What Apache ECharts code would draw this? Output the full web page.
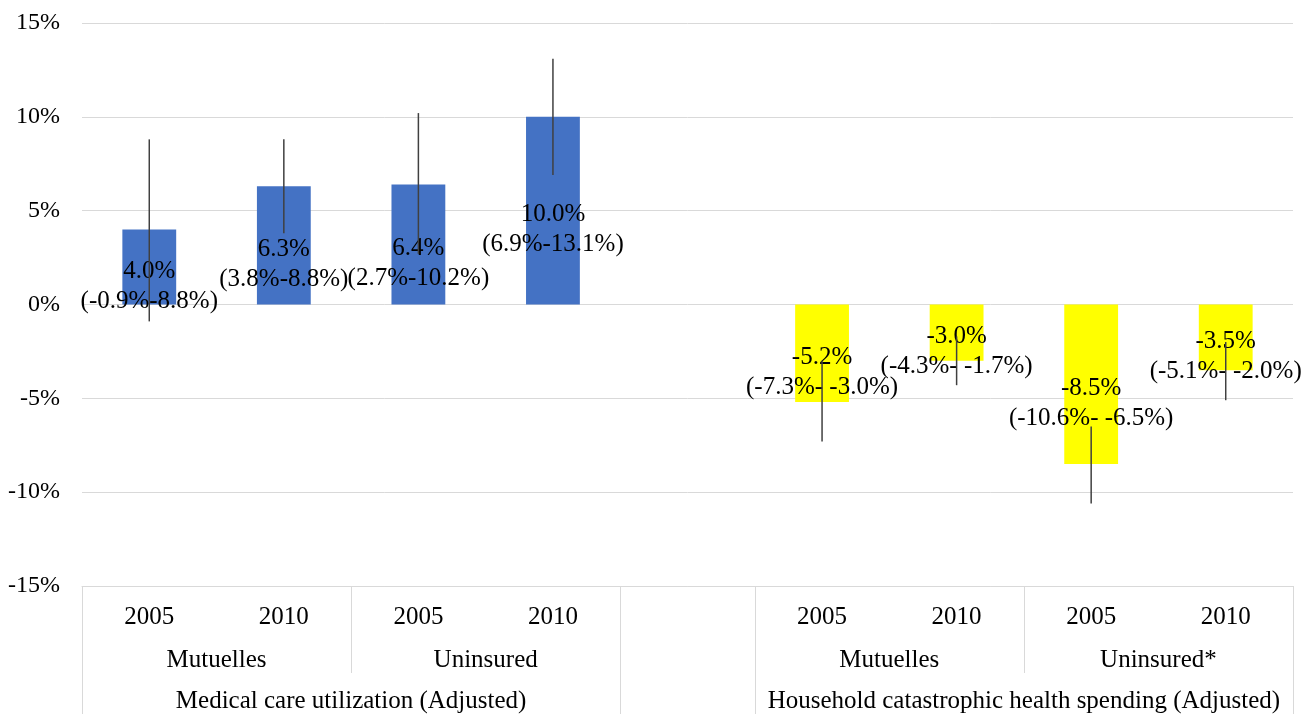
<!DOCTYPE html>
<html>
<head>
<meta charset="utf-8">
<script src="https://cdn.jsdelivr.net/npm/echarts@6/dist/echarts.min.js"></script>
<style>
  html, body { margin: 0; padding: 0; background: #ffffff; }
  #chart { width: 1302px; height: 714px; }
</style>
</head>
<body>
<div id="chart"></div>
<script>
// ---- Data ----
const yearLabels = ['2005', '2010', '2005', '2010', '', '2005', '2010', '2005', '2010'];
const groupLabels = ['', 'Mutuelles', '', 'Uninsured', '', '', 'Mutuelles', '', 'Uninsured*', ''];
const outcomeLabels = ['', '', 'Medical care utilization (Adjusted)', '', '', '', '', 'Household catastrophic health spending (Adjusted)', '', ''];

const utilizationValues = [4.0, 6.3, 6.4, 10.0];
const utilizationLow = [-0.9, 3.8, 2.7, 6.9];
const utilizationHigh = [8.8, 8.8, 10.2, 13.1];

const spendingValues = [-5.2, -3.0, -8.5, -3.5];
const spendingLow = [-7.3, -4.3, -10.6, -5.1];
const spendingHigh = [-3.0, -1.7, -6.5, -2.0];

const yTicks = { min: -15, max: 15, interval: 5 };

// ---- Build combined arrays (slot 5 is the blank separator) ----
const values = [...utilizationValues, null, ...spendingValues];
const lows = [...utilizationLow, null, ...spendingLow];
const highs = [...utilizationHigh, null, ...spendingHigh];
const colors = [...utilizationValues.map(() => '#4472C4'), null, ...spendingValues.map(() => '#FFFF00')];

const barData = values.map((v, i) => v === null ? null : { value: v, itemStyle: { color: colors[i] } });
const errData = values.map((v, i) => v === null ? null : [i, lows[i], highs[i]]).filter(d => d);

const fmt = n => n.toFixed(1) + '%';
function labelText(i) {
  const lo = lows[i], hi = highs[i];
  return fmt(values[i]) + '\n(' + fmt(lo) + '-' + (hi < 0 ? ' ' : '') + fmt(hi) + ')';
}

const FONT = '"Liberation Serif", "Times New Roman", serif';
const gridBox = { left: 82, right: 9, top: 23, bottom: 128 };

const chart = echarts.init(document.getElementById('chart'), null, { renderer: 'canvas' });
chart.setOption({
  animation: false,
  backgroundColor: '#ffffff',
  grid: [
    Object.assign({}, gridBox),
    Object.assign({}, gridBox),
    Object.assign({}, gridBox)
  ],
  xAxis: [
    {
      gridIndex: 0,
      type: 'category',
      data: yearLabels,
      boundaryGap: true,
      axisLine: { show: true, onZero: false, lineStyle: { color: '#d9d9d9', width: 1 } },
      axisTick: { show: false },
      axisLabel: { interval: 0, margin: 19, color: '#000', fontSize: 25, fontFamily: FONT }
    },
    {
      gridIndex: 1,
      type: 'category',
      data: groupLabels,
      boundaryGap: false,
      axisLine: { show: false, onZero: false },
      axisTick: {
        show: true, length: 87,
        interval: (idx) => idx === 2 || idx === 7,
        lineStyle: { color: '#d9d9d9', width: 1 }
      },
      axisLabel: { interval: 0, margin: 62, color: '#000', fontSize: 25, fontFamily: FONT }
    },
    {
      gridIndex: 2,
      type: 'category',
      data: outcomeLabels,
      boundaryGap: false,
      axisLine: { show: false, onZero: false },
      axisTick: {
        show: true, length: 128,
        interval: (idx) => idx === 0 || idx === 4 || idx === 5 || idx === 9,
        lineStyle: { color: '#d9d9d9', width: 1 }
      },
      axisLabel: { interval: 0, margin: 103, color: '#000', fontSize: 25, fontFamily: FONT }
    }
  ],
  yAxis: [
    {
      gridIndex: 0,
      type: 'value',
      min: yTicks.min, max: yTicks.max, interval: yTicks.interval,
      axisLine: { show: false },
      axisTick: { show: false },
      splitLine: { show: true, lineStyle: { color: '#d9d9d9', width: 1 } },
      axisLabel: { formatter: '{value}%', margin: 22, color: '#000', fontSize: 24, fontFamily: FONT }
    },
    { gridIndex: 1, type: 'value', show: false, min: yTicks.min, max: yTicks.max },
    { gridIndex: 2, type: 'value', show: false, min: yTicks.min, max: yTicks.max }
  ],
  series: [
    {
      type: 'bar',
      xAxisIndex: 0, yAxisIndex: 0,
      data: barData,
      barWidth: '40%',
      z: 2,
      label: {
        show: true,
        position: 'inside',
        offset: [0, 19],
        color: '#000',
        fontSize: 25,
        lineHeight: 30,
        fontFamily: FONT,
        align: 'center',
        formatter: (p) => labelText(p.dataIndex)
      }
    },
    {
      type: 'custom',
      xAxisIndex: 0, yAxisIndex: 0,
      z: 3,
      data: errData,
      renderItem: function (params, api) {
        const x = api.value(0);
        const p1 = api.coord([x, api.value(1)]);
        const p2 = api.coord([x, api.value(2)]);
        return {
          type: 'line',
          shape: { x1: p1[0], y1: p1[1], x2: p2[0], y2: p2[1] },
          style: { stroke: '#404040', lineWidth: 1.5 }
        };
      }
    }
  ]
});
</script>
</body>
</html>
